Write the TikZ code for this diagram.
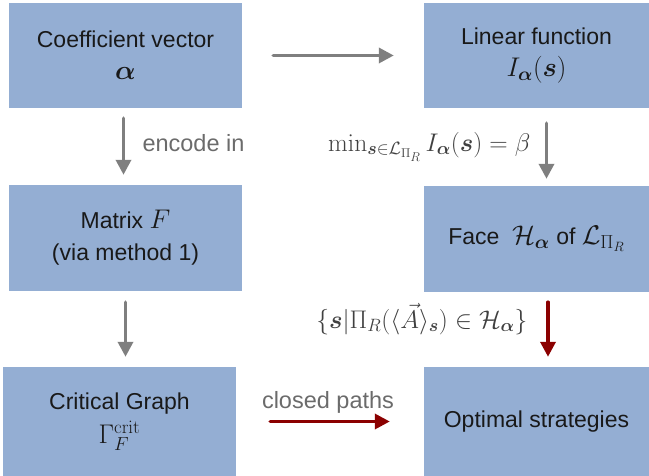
\RequirePackage{fix-cm}
\documentclass[tikz,border=0pt]{standalone}
\usepackage{amsmath,amssymb,bm}
\usepackage[no-math]{fontspec}
\setmainfont{Liberation Sans}
\usepackage{tikz}
\usetikzlibrary{arrows.meta}
\pgfdeclarelayer{bg}
\pgfsetlayers{bg,main}
\definecolor{boxblue}{HTML}{94AED3}
\definecolor{arrgray}{HTML}{7F7F7F}
\definecolor{arrred}{HTML}{8B0000}
\definecolor{labgray}{HTML}{6B6B6B}
\newcommand{\boxmath}[1]{{\fontsize{27}{32}\selectfont$#1$}}

\begin{document}
\begin{tikzpicture}[x=1pt, y=-1pt,
        box/.style={fill=boxblue, inner sep=0pt, align=center, text=black!90,
                font=\fontsize{23}{32}\selectfont},
        flow/.style={line width=3.5pt, line cap=round,
                -{Triangle[length=15pt, width=15pt]}},
        lab/.style={text=labgray, font=\fontsize{23.5}{28}\selectfont},
        mlab/.style={text=black!75, font=\fontsize{25.5}{28}\selectfont}]
        \useasboundingbox (0,0) rectangle (649,476);
        \node (coef) [box, minimum width=233pt, minimum height=105pt] at (125.5, 55.5) {
Coefficient vector\\\boxmath{\bm{\alpha}}};
        \node (linfun) [box, minimum width=225pt, minimum height=105pt] at (536.5, 55.5) {
Linear function\\\boxmath{I_{\bm{\alpha}}(\bm{s})}};
        \node (matF) [box, minimum width=233pt, minimum height=106pt] at (125.5, 238) {
Matrix \boxmath{F}\\(via method 1)};
        \node (face) [box, minimum width=225pt, minimum height=106pt] at (536.5, 239) {
Face~ \boxmath{\mathcal{H}_{\bm{\alpha}}} of \boxmath{\mathcal{L}_{\Pi_R}}};
        \node (crit) [box, minimum width=233pt, minimum height=109pt] at (119.5, 421.5) {
Critical Graph\\[2pt]\boxmath{\Gamma_F^{\mathrm{crit}}}};
        \node (opt) [box, minimum width=225pt, minimum height=109pt] at (536.5, 421.5) {
Optimal strategies};
        \node (encode) [lab, anchor=west] at (139, 143) {encode in};
        \node (minlab) [mlab, anchor=east] at (534, 147) {
$\min_{\bm{s}\in\mathcal{L}_{\Pi_R}} I_{\bm{\alpha}}(\bm{s})=\beta$};
        \node (setlab) [mlab, anchor=east] at (531, 319) {
$\{\bm{s}|\Pi_R(\langle\vec{A}\rangle_{\bm{s}})\in\mathcal{H}_{\bm{\alpha}}\}$};
        \node (closed) [lab] at (328, 402) {closed paths};
        \begin{pgfonlayer}{bg}
                \draw (coef) edge [flow, arrgray, shorten <=31pt, shorten >=30pt] (linfun);
                \draw ([xshift=-2pt]coef.south) edge [flow, arrgray, shorten <=10pt, shorten >=10pt] ([xshift=-2pt]matF.north);
                \draw ([xshift=10pt]linfun.south) edge [flow, arrgray, shorten <=15pt, shorten >=7pt] ([xshift=10pt]face.north);
                \draw (matF.south) edge [flow, arrgray, shorten <=11pt, shorten >=10pt] (matF.south |- crit.north);
                \draw ([xshift=11.5pt]face.south) edge [flow, arrred, shorten <=10pt, shorten >=10pt] ([xshift=11.5pt]opt.north);
                \draw (crit) edge [flow, arrred, shorten <=34pt, shorten >=34pt] (opt);
        \end{pgfonlayer}
\end{tikzpicture}
\end{document}
